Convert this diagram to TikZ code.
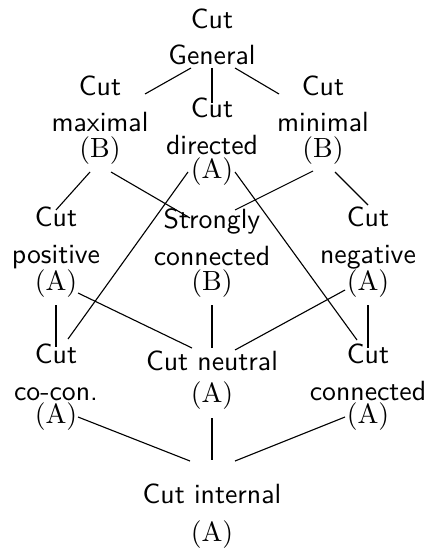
\documentclass[tikz,border=0pt]{standalone}
\begin{document}
\begin{tikzpicture}[x=0.36pt,y=-0.36pt,
  concept/.style={anchor=base,align=center,inner sep=0pt,font=\sffamily\fontsize{10}{13}\selectfont},
  grade/.style={anchor=base,inner sep=0pt,font=\rmfamily\fontsize{10}{12}\selectfont},
  edge/.style={line width=0.4pt}]
\useasboundingbox (0,0) rectangle (430,550);
% concepts (base = baseline of the last line)
\node[concept] (gen) at (212,65) {Cut\\General};
\node[concept] (max) at (100,132) {Cut\\maximal};
\node[grade]   (maxL) at (100,157) {(B)};
\node[concept] (dir) at (212,154) {Cut\\directed};
\node[grade]   (dirL) at (212,179) {(A)};
\node[concept] (min) at (323,132) {Cut\\minimal};
\node[grade]   (minL) at (323,157) {(B)};
\node[concept] (pos) at (56,263) {Cut\\positive};
\node[grade]   (posL) at (56,290) {(A)};
\node[concept] (str) at (212,265) {Strongly\\connected};
\node[grade]   (strL) at (212,290) {(B)};
\node[concept] (neg) at (368,263) {Cut\\negative};
\node[grade]   (negL) at (368,290) {(A)};
\node[concept] (coc) at (56,400) {Cut\\co-con.};
\node[grade]   (cocL) at (56,423) {(A)};
\node[concept] (neu) at (212,370) {Cut neutral};
\node[grade]   (neuL) at (212,402) {(A)};
\node[concept] (con) at (368,400) {Cut\\connected};
\node[grade]   (conL) at (368,423) {(A)};
\node[concept] (int) at (212,503) {Cut internal};
\node[grade]   (intL) at (212,541) {(A)};
% connectors
\draw[edge] ([shift={(-21,3)}]gen.base) -- ([shift={(45,-38)}]max.base);
\draw[edge] ([shift={(0,3)}]gen.base) -- ([shift={(0,-51)}]dir.base);
\draw[edge] ([shift={(23,3)}]gen.base) -- ([shift={(-44,-38)}]min.base);
\draw[edge] ([shift={(-10,15)}]maxL.base) -- ([shift={(0,-53)}]pos.base);
\draw[edge] ([shift={(11,15)}]maxL.base) -- ([shift={(-22,-47)}]str.base);
\draw[edge] ([shift={(-24,-7)}]dirL.base) -- ([shift={(12,-61)}]coc.base);
\draw[edge] ([shift={(23,-7)}]dirL.base) -- ([shift={(-11,-60)}]con.base);
\draw[edge] ([shift={(-10,14)}]minL.base) -- ([shift={(23,-55)}]str.base);
\draw[edge] ([shift={(12,15)}]minL.base) -- ([shift={(0,-58)}]neg.base);
\draw[edge] ([shift={(0,15)}]posL.base) -- ([shift={(0,-53)}]coc.base);
\draw[edge] ([shift={(22,3)}]posL.base) -- ([shift={(-20,-22)}]neu.base);
\draw[edge] ([shift={(0,15)}]strL.base) -- ([shift={(0,-22)}]neu.base);
\draw[edge] ([shift={(-23,0)}]negL.base) -- ([shift={(23,-20)}]neu.base);
\draw[edge] ([shift={(0,15)}]negL.base) -- ([shift={(0,-52)}]con.base);
\draw[edge] ([shift={(22,-6)}]cocL.base) -- ([shift={(-22,-42)}]int.base);
\draw[edge] ([shift={(0,16)}]neuL.base) -- ([shift={(0,-43)}]int.base);
\draw[edge] ([shift={(-23,-6)}]conL.base) -- ([shift={(23,-42)}]int.base);
\end{tikzpicture}
\end{document}
